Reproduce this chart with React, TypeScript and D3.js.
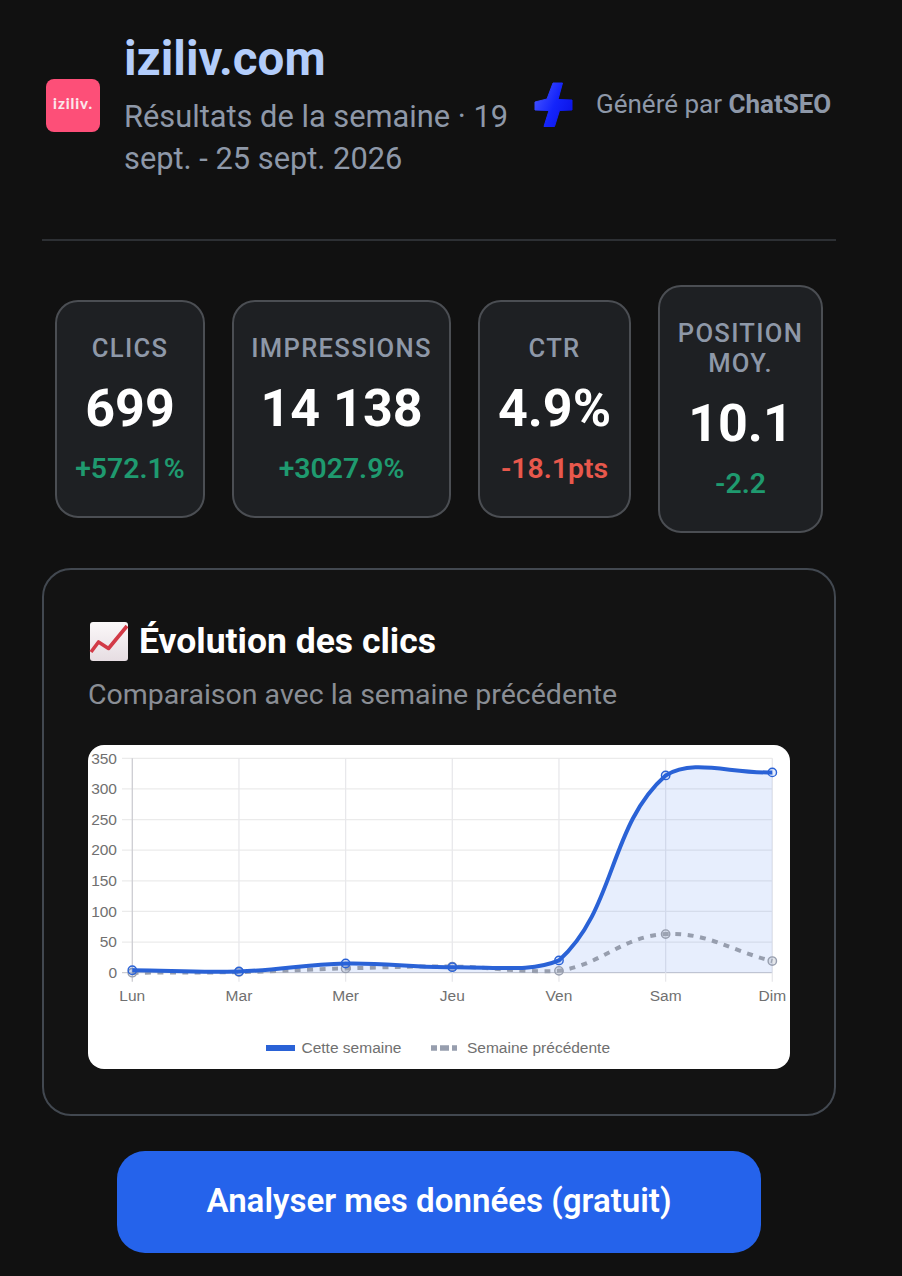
import React from "react";
import * as d3 from "d3";

const days = ["Lun", "Mar", "Mer", "Jeu", "Ven", "Sam", "Dim"];
const thisWeek = [4, 2, 15, 9, 20, 322, 327];
const lastWeek = [0, 1, 7, 10, 3, 63, 19];
const yTicks = [0, 50, 100, 150, 200, 250, 300, 350];
const legendLabels = ["Cette semaine", "Semaine précédente"];
const kpiLabels = [["CLICS"], ["IMPRESSIONS"], ["CTR"], ["POSITION", "MOY."]];
const kpiValues = ["699", "14 138", "4.9%", "10.1"];
const kpiDeltas = ["+572.1%", "+3027.9%", "-18.1pts", "-2.2"];
const kpiGood = [true, true, false, true];
const subtitleLines = ["Résultats de la semaine · 19", "sept. - 25 sept. 2026"];

const ui = "Roboto, sans-serif";
const chartFont = "'Liberation Sans', Arial, sans-serif";
const cards = [
  { x: 56, y: 301, w: 148, h: 216 },
  { x: 233, y: 301, w: 217, h: 216 },
  { x: 479, y: 301, w: 151, h: 216 },
  { x: 659, y: 286, w: 163, h: 246 },
];

const plot = { left: 132.3, right: 772.3, top: 758.3, bottom: 972.7 };
const xScale = d3.scalePoint<string>().domain(days).range([plot.left, plot.right]);
const yScale = d3.scaleLinear().domain([0, 350]).range([plot.bottom, plot.top]);

// Same spline construction as the tension-0.4 line of the original chart
function splineCurve(context: any) {
  let pts: [number, number][] = [];
  const t = 0.4;
  const clampX = (v: number) => Math.min(plot.right, Math.max(plot.left, v));
  const clampY = (v: number) => Math.min(plot.bottom, Math.max(plot.top, v));
  return {
    areaStart() {},
    areaEnd() {},
    lineStart() {
      pts = [];
    },
    point(x: number, y: number) {
      pts.push([x, y]);
    },
    lineEnd() {
      const ctrl = pts.map((p, i) => {
        const prev = pts[i - 1] ?? p;
        const next = pts[i + 1] ?? p;
        const d01 = Math.hypot(p[0] - prev[0], p[1] - prev[1]);
        const d12 = Math.hypot(next[0] - p[0], next[1] - p[1]);
        const s01 = d01 / (d01 + d12 || 1);
        const s12 = d12 / (d01 + d12 || 1);
        const dx = next[0] - prev[0];
        const dy = next[1] - prev[1];
        return {
          px: clampX(p[0] - t * s01 * dx),
          py: clampY(p[1] - t * s01 * dy),
          nx: clampX(p[0] + t * s12 * dx),
          ny: clampY(p[1] + t * s12 * dy),
        };
      });
      pts.forEach((p, i) => {
        if (i === 0) context.moveTo(p[0], p[1]);
        else
          context.bezierCurveTo(ctrl[i - 1].nx, ctrl[i - 1].ny, ctrl[i].px, ctrl[i].py, p[0], p[1]);
      });
    },
  };
}

const lineGen = d3
  .line<number>()
  .x((_, i) => xScale(days[i]) as number)
  .y((d) => yScale(d))
  .curve(splineCurve as any);

const blue = "#2a62d6";
const grey = "#979eae";
const muted = "#8e98a8";

export default function App() {
  const blueLine = lineGen(thisWeek) as string;
  const greyLine = lineGen(lastWeek) as string;
  const blueArea = `${blueLine}L${plot.right},${yScale(0)}L${plot.left},${yScale(0)}Z`;
  return (
    <svg
      width={902}
      height={1276}
      viewBox="0 0 902 1276"
      style={{ position: "absolute", left: 0, top: 0, display: "block" }}
    >
      <defs>
        <linearGradient id="bolt" x1="0" y1="0.3" x2="1" y2="0.8">
          <stop offset="0" stopColor="#4150ff" />
          <stop offset="0.5" stopColor="#1424fb" />
          <stop offset="1" stopColor="#0a12e6" />
        </linearGradient>
        <linearGradient id="emoji" x1="0" y1="0" x2="0" y2="1">
          <stop offset="0" stopColor="#fbf8f9" />
          <stop offset="1" stopColor="#e6dde2" />
        </linearGradient>
        <clipPath id="whiteClip">
          <rect x={88} y={745} width={702} height={324} rx={16} />
        </clipPath>
      </defs>
      <rect width={902} height={1276} fill="#111111" />

      {/* Header */}
      <rect x={46} y={79} width={54} height={53} rx={8} fill="#fd4f78" />
      <text x={73} y={109} textAnchor="middle" fontFamily="Lato, sans-serif" fontWeight={900} fontSize={15} letterSpacing={0.9} fill="#fbe6ea">
        iziliv.
      </text>
      <text x={124} y={75} fontFamily={ui} fontWeight={700} fontSize={47.5} fill="#b3cdfb">
        iziliv.com
      </text>
      {subtitleLines.map((l, i) => (
        <text key={l} x={124} y={127 + i * 42} fontFamily={ui} fontSize={30.8} fill={muted}>
          {l}
        </text>
      ))}
      <path
        d="M553 83 L562.5 83 L558 99.5 L572 100 L572 110 L559.5 110.5 L554.5 126.5 L544 126.5 L549 110.5 L535 110 L535 102 L547 99 Z"
        fill="url(#bolt)"
        stroke="url(#bolt)"
        strokeWidth={1}
        strokeLinejoin="round"
      />
      <text x={596} y={113} fontFamily={ui} fontSize={26} fill={muted}>
        Généré par <tspan fontWeight={700}>ChatSEO</tspan>
      </text>
      <line x1={42} x2={836} y1={240} y2={240} stroke="#2d3034" strokeWidth={2} />

      {/* KPI cards */}
      {cards.map((c, i) => {
        const cx = c.x + c.w / 2;
        const offset = kpiLabels[i].length > 1 ? 15 : 0;
        return (
          <g key={i}>
            <rect x={c.x} y={c.y} width={c.w} height={c.h} rx={22} fill="#1e2023" stroke="#4b4e53" strokeWidth={2} />
            {kpiLabels[i].map((l, j) => (
              <text key={l} x={cx} y={356.5 - offset + j * 30} textAnchor="middle" fontFamily={ui} fontWeight={500} fontSize={25.6} letterSpacing={1.3} fill={muted}>
                {l}
              </text>
            ))}
            <text x={cx} y={426 + offset} textAnchor="middle" fontFamily={ui} fontWeight={700} fontSize={52} fill="#fff">
              {kpiValues[i]}
            </text>
            <text x={cx} y={478 + offset} textAnchor="middle" fontFamily={ui} fontWeight={600} fontSize={28.4} fill={kpiGood[i] ? "#1f9a6f" : "#e8584c"}>
              {kpiDeltas[i]}
            </text>
          </g>
        );
      })}

      {/* Chart panel */}
      <rect x={43} y={569} width={792} height={546} rx={28} fill="#131313" stroke="#424850" strokeWidth={2} />
      <rect x={90} y={622} width={38} height={39} rx={3} fill="url(#emoji)" />
      <polyline points="91,652 98.5,642 108.5,648.5 127,626" fill="none" stroke="#d23a47" strokeWidth={3.6} strokeLinejoin="round" />
      <text x={139} y={653} fontFamily={ui} fontWeight={700} fontSize={35.5} fill="#fff">
        Évolution des clics
      </text>
      <text x={88} y={704} fontFamily={ui} fontSize={28.5} fill="#8a8e95">
        Comparaison avec la semaine précédente
      </text>

      {/* White chart area */}
      <rect x={88} y={745} width={702} height={324} rx={16} fill="#fff" />
      <g clipPath="url(#whiteClip)" fontFamily={chartFont} fontSize={15.5} fill="#707070">
        {yTicks.map((t) => (
          <g key={t}>
            <line x1={122} x2={plot.right} y1={yScale(t)} y2={yScale(t)} stroke={t === 0 ? "#cdcdd2" : "#ebebeb"} strokeWidth={1.3} />
            <text x={117} y={yScale(t) + 5.3} textAnchor="end">
              {t}
            </text>
          </g>
        ))}
        {days.map((d, i) => (
          <g key={d}>
            <line x1={xScale(d)} x2={xScale(d)} y1={plot.top} y2={plot.bottom + 9} stroke={i === 0 ? "#cdcdd2" : "#e8e8eb"} strokeWidth={1.3} />
            <text x={xScale(d)} y={1001} textAnchor="middle">
              {d}
            </text>
          </g>
        ))}

        <path d={blueArea} fill="rgba(37,99,235,0.11)" />
        <path d={greyLine} fill="none" stroke={grey} strokeWidth={4} strokeDasharray="6 6.5" />
        {lastWeek.map((v, i) => (
          <circle key={i} cx={xScale(days[i])} cy={yScale(v)} r={4.2} fill="rgba(170,176,190,0.3)" stroke={grey} strokeWidth={1.4} />
        ))}
        <path d={blueLine} fill="none" stroke={blue} strokeWidth={4} />
        {thisWeek.map((v, i) => (
          <circle key={i} cx={xScale(days[i])} cy={yScale(v)} r={4.2} fill="rgba(37,99,235,0.12)" stroke={blue} strokeWidth={1.4} />
        ))}

        {/* Legend */}
        <rect x={266} y={1045} width={29} height={6} fill={blue} />
        <text x={301.5} y={1053}>{legendLabels[0]}</text>
        <line x1={431} x2={461} y1={1048} y2={1048} stroke={grey} strokeWidth={5.5} strokeDasharray="6 3 9 3 5 4" />
        <text x={467} y={1053}>{legendLabels[1]}</text>
      </g>

      {/* Button */}
      <rect x={117} y={1151} width={644} height={102} rx={28} fill="#2563eb" />
      <text x={439} y={1212} textAnchor="middle" fontFamily={ui} fontWeight={600} fontSize={33.1} fill="#fff">
        Analyser mes données (gratuit)
      </text>
    </svg>
  );
}
